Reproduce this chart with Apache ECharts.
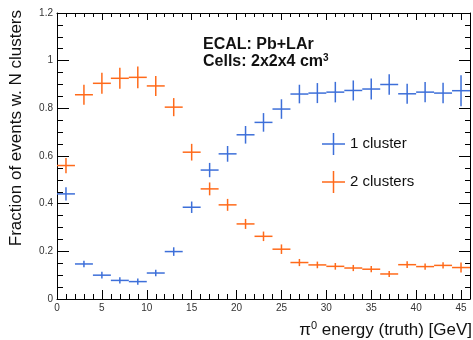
<!DOCTYPE html>
<html>
<head>
<meta charset="utf-8">
<script src="https://cdn.jsdelivr.net/npm/echarts@6/dist/echarts.min.js"></script>
<style>
  html, body { margin: 0; padding: 0; background: #fff; }
  #chart { width: 473px; height: 340px; }
</style>
</head>
<body>
<div id="chart"></div>
<script>
// Bin centres of the pi0 energy histogram (2 GeV wide bins)
const energy = [1, 3, 5, 7, 9, 11, 13, 15, 17, 19, 21, 23, 25, 27, 29, 31, 33, 35, 37, 39, 41, 43, 45];
const binHalfWidth = 1;

// Fraction of events reconstructed with a single cluster
const oneCluster = [0.441, 0.147, 0.100, 0.078, 0.073, 0.109, 0.199, 0.385, 0.541, 0.609, 0.689, 0.741,
                    0.797, 0.860, 0.864, 0.868, 0.875, 0.881, 0.900, 0.861, 0.868, 0.864, 0.874];
const oneClusterErr = [0.028, 0.014, 0.014, 0.013, 0.013, 0.014, 0.018, 0.024, 0.030, 0.033, 0.037, 0.039,
                       0.041, 0.039, 0.042, 0.043, 0.042, 0.044, 0.043, 0.042, 0.042, 0.043, 0.065];

// Fraction of events reconstructed with two clusters
const twoClusters = [0.560, 0.857, 0.905, 0.926, 0.930, 0.894, 0.805, 0.616, 0.462, 0.395, 0.315, 0.263,
                     0.209, 0.153, 0.143, 0.137, 0.130, 0.125, 0.105, 0.144, 0.136, 0.141, 0.132];
const twoClustersErr = [0.032, 0.042, 0.044, 0.044, 0.046, 0.042, 0.038, 0.035, 0.027, 0.025, 0.021, 0.020,
                        0.020, 0.015, 0.014, 0.014, 0.013, 0.013, 0.013, 0.014, 0.013, 0.013, 0.021];

const xTicks = [0, 5, 10, 15, 20, 25, 30, 35, 40, 45];
const yTicks = [0, 0.2, 0.4, 0.6, 0.8, 1, 1.2];

const seriesNames = ['1 cluster', '2 clusters'];
const blue = '#3d6fd9';
const orange = '#ff6a1a';
const crossIcon = 'path://M0,10.25h23v1.5h-23z M10.75,0h1.5v22h-1.5z';

function toRows(vals, errs) {
  return energy.map((e, i) => [e, vals[i], errs[i]]);
}

// Each bin is drawn as a cross: horizontal bar spans the bin, vertical bar spans the error
function crossRenderer(color) {
  return function (params, api) {
    const x = api.value(0), y = api.value(1), err = api.value(2);
    const c = api.coord([x, y]);
    const left = api.coord([x - binHalfWidth, y]);
    const right = api.coord([x + binHalfWidth, y]);
    const top = api.coord([x, y + err]);
    const bottom = api.coord([x, y - err]);
    const style = { stroke: color, lineWidth: 1.5 };
    return {
      type: 'group',
      children: [
        { type: 'line', shape: { x1: left[0], y1: c[1], x2: right[0], y2: c[1] }, style: style },
        { type: 'line', shape: { x1: c[0], y1: top[1], x2: c[0], y2: bottom[1] }, style: style }
      ]
    };
  };
}

const frameLine = { show: true, onZero: false, lineStyle: { color: '#000', width: 1 } };
const labelStyle = { color: '#333', fontFamily: 'Liberation Sans', fontSize: 10 };

function xAxisDef(pos, showLabels, majorLen, minorLen) {
  return {
    type: 'value', position: pos, min: 0, max: 46, interval: 5,
    axisLine: frameLine,
    axisTick: { show: true, inside: true, length: majorLen, lineStyle: { color: '#000' } },
    minorTick: { show: true, splitNumber: 5, length: minorLen, lineStyle: { color: '#000' } },
    splitLine: { show: false },
    axisLabel: showLabels ? Object.assign({
      margin: 4,
      formatter: v => (xTicks.indexOf(v) >= 0 ? String(v) : '')
    }, labelStyle) : { show: false }
  };
}

function yAxisDef(pos, showLabels, majorLen, minorLen) {
  return {
    type: 'value', position: pos, min: 0, max: 1.2, interval: 0.2,
    axisLine: frameLine,
    axisTick: { show: true, inside: true, length: majorLen, lineStyle: { color: '#000' } },
    minorTick: { show: true, splitNumber: 4, length: minorLen, lineStyle: { color: '#000' } },
    splitLine: { show: false },
    axisLabel: showLabels ? Object.assign({
      margin: 4,
      formatter: v => {
        const t = yTicks.find(k => Math.abs(k - v) < 1e-6);
        return t === undefined ? '' : String(+t.toFixed(1));
      }
    }, labelStyle) : { show: false }
  };
}

const chart = echarts.init(document.getElementById('chart'), null, { renderer: 'canvas' });

chart.setOption({
  animation: false,
  backgroundColor: '#fff',
  grid: { left: 57, right: 0.5, top: 13, bottom: 41 },
  xAxis: [xAxisDef('bottom', true, 9, 5), xAxisDef('top', false, 7, 4)],
  yAxis: [yAxisDef('left', true, 12, 6), yAxisDef('right', false, 11, 5)],
  legend: {
    orient: 'vertical',
    left: 317, top: 128,
    itemWidth: 23, itemHeight: 22, itemGap: 16,
    textStyle: { fontFamily: 'Liberation Sans', fontSize: 15, color: '#111' },
    data: [
      { name: seriesNames[0], icon: crossIcon, itemStyle: { color: blue } },
      { name: seriesNames[1], icon: crossIcon, itemStyle: { color: orange } }
    ]
  },
  series: [
    {
      name: seriesNames[0], type: 'custom', xAxisIndex: 0, yAxisIndex: 0,
      itemStyle: { color: blue },
      renderItem: crossRenderer(blue),
      encode: { x: 0, y: 1 },
      data: toRows(oneCluster, oneClusterErr)
    },
    {
      name: seriesNames[1], type: 'custom', xAxisIndex: 0, yAxisIndex: 0,
      itemStyle: { color: orange },
      renderItem: crossRenderer(orange),
      encode: { x: 0, y: 1 },
      data: toRows(twoClusters, twoClustersErr)
    }
  ],
  graphic: [
    {
      type: 'text', x: 16, y: 10, rotation: Math.PI / 2,
      style: {
        text: 'Fraction of events w. N clusters',
        align: 'right', verticalAlign: 'middle',
        fontFamily: 'Liberation Sans', fontSize: 17, fill: '#111'
      }
    },
    {
      type: 'text', x: 472, y: 330,
      style: {
        text: '{g|π}{s|0}{g| energy (truth) [GeV]}',
        align: 'right', verticalAlign: 'middle',
        rich: {
          g: { fontFamily: 'Liberation Sans', fontSize: 17, fill: '#111', lineHeight: 20 },
          s: { fontFamily: 'Liberation Sans', fontSize: 11, fill: '#111', verticalAlign: 'top', lineHeight: 11, padding: [0, 0, 8, 0] }
        }
      }
    },
    {
      type: 'text', x: 203, y: 36,
      style: {
        text: '{b|ECAL: Pb+LAr}\n{b|Cells: 2x2x4 cm}{s|3}',
        rich: {
          b: { fontFamily: 'Liberation Sans', fontWeight: 'bold', fontSize: 16, fill: '#111', lineHeight: 17 },
          s: { fontFamily: 'Liberation Sans', fontWeight: 'bold', fontSize: 10, fill: '#111', verticalAlign: 'top', lineHeight: 10, padding: [0, 0, 3, 0] }
        }
      }
    }
  ]
});
</script>
</body>
</html>
